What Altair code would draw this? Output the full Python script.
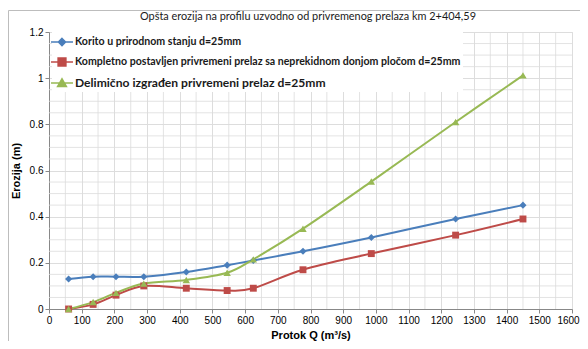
import altair as alt
import pandas as pd

# ---- data ----
q = [60, 135, 205, 290, 420, 545, 625, 777, 986, 1244, 1450]
korito = [0.13, 0.14, 0.14, 0.14, 0.16, 0.19, 0.21, 0.25, 0.31, 0.39, 0.45]
kompletno = [0.0, 0.02, 0.06, 0.10, 0.09, 0.08, 0.09, 0.17, 0.24, 0.32, 0.39]
delimicno = [0.0, 0.03, 0.07, 0.11, 0.126, 0.157, 0.215, 0.348, 0.552, 0.81, 1.012]

series_names = [
    "Korito u prirodnom stanju d=25mm",
    "Kompletno postavljen privremeni prelaz sa neprekidnom donjom pločom d=25mm",
    "Delimično izgrađen privremeni prelaz d=25mm",
]
series_colors = ["#4A7EBB", "#BE4B48", "#98B954"]
series_shapes = ["diamond", "square", "triangle-up"]
series_sizes = [50, 48, 55]

x_ticks = list(range(0, 1601, 100))
y_ticks = [0, 0.2, 0.4, 0.6, 0.8, 1.0, 1.2]
x_minor = list(range(50, 1600, 100))
y_minor = [round(0.05 * i, 2) for i in range(1, 24) if i % 4 != 0]

title_text = "Opšta erozija na profilu uzvodno od privremenog prelaza  km 2+404,59"
x_title = "Protok Q (m³/s)"
y_title = "Erozija (m)"

FONT = "Lato"

rows = []
for name, vals in zip(series_names, [korito, kompletno, delimicno]):
    for i, (x, y) in enumerate(zip(q, vals)):
        rows.append({"Q": x, "E": y, "serija": name, "order": i})
df = pd.DataFrame(rows)

xscale = alt.Scale(domain=[0, 1600], nice=False, zero=False)
yscale = alt.Scale(domain=[0, 1.2], nice=False)

legend_paths = [
    "M-1.57,0H1.57M0,-0.5L0.5,0L0,0.5L-0.5,0Z",
    "M-1.57,0H1.57M-0.55,-0.55H0.55V0.55H-0.55Z",
    "M-1.57,0H1.57M0,-0.6L0.62,0.5H-0.62Z",
]


def per_entry(values):
    def lit(v):
        return f"'{v}'" if isinstance(v, str) else repr(v)
    expr = lit(values[-1])
    for n, v in reversed(list(zip(series_names[:-1], values[:-1]))):
        expr = f"(datum.value === '{n}' ? {lit(v)} : {expr})"
    return alt.ExprRef(expr=expr)


legend = alt.Legend(
    title=None,
    orient="none",
    legendX=3,
    legendY=0,
    direction="vertical",
    fillColor="white",
    padding=2,
    symbolSize=196,
    symbolStrokeWidth=1.6,
    symbolType=per_entry(legend_paths),
    symbolFillColor=per_entry(series_colors),
    symbolStrokeColor=per_entry(series_colors),
    labelFont=FONT,
    labelFontSize=per_entry([10.6, 10.6, 12.1]),
    labelFontWeight="bold",
    labelColor="#1a1a1a",
    labelLimit=600,
    labelOffset=5,
    rowPadding=5,
)

x_axis = alt.Axis(
    values=x_ticks, format="d", title=x_title, grid=True, tickSize=4,
    titlePadding=4, labelOverlap=False, labelFlush=False, labelBound=False,
    labelOffset={"condition": {"test": "datum.value === 1600", "value": -4}, "value": 0},
)
y_axis = alt.Axis(
    values=y_ticks, format="~g", title=y_title, grid=True, tickSize=4,
    titlePadding=8, labelOverlap=False, labelFlush=False,
)

minor_x = (
    alt.Chart(pd.DataFrame({"v": x_minor}))
    .mark_rule(color="#dcdcdc", strokeWidth=0.8)
    .encode(x=alt.X("v:Q", scale=xscale, axis=x_axis))
)
minor_y = (
    alt.Chart(pd.DataFrame({"v": y_minor}))
    .mark_rule(color="#dcdcdc", strokeWidth=0.8)
    .encode(y=alt.Y("v:Q", scale=yscale, axis=y_axis))
)

lines = (
    alt.Chart(df)
    .mark_line(interpolate="cardinal", strokeWidth=2)
    .encode(
        x=alt.X("Q:Q", scale=xscale, axis=x_axis),
        y=alt.Y("E:Q", scale=yscale, axis=y_axis),
        color=alt.Color(
            "serija:N",
            scale=alt.Scale(domain=series_names, range=series_colors),
            legend=legend,
        ),
        order="order:Q",
    )
)

point_layers = []
for name, col, shp, sz in zip(series_names, series_colors, series_shapes, series_sizes):
    point_layers.append(
        alt.Chart(df)
        .transform_filter(alt.datum.serija == name)
        .mark_point(filled=True, opacity=1, size=sz, shape=shp, color=col)
        .encode(
            x=alt.X("Q:Q", scale=xscale, axis=x_axis),
            y=alt.Y("E:Q", scale=yscale, axis=y_axis),
        )
    )

frame = (
    alt.Chart(pd.DataFrame({"a": [0]}))
    .mark_rect(fill=None, stroke="#bdbdbd", strokeWidth=1, clip=False)
    .encode(
        x=alt.value(-40.5),
        x2=alt.value(560),
        y=alt.value(-21.5),
        y2=alt.value(330),
    )
)

title = (
    alt.Chart(pd.DataFrame({"t": [title_text]}))
    .mark_text(
        font=FONT, fontSize=10.9, fontWeight="normal", color="#1a1a1a",
        align="left", baseline="middle", clip=False,
    )
    .encode(text="t:N", x=alt.value(91), y=alt.value(-15))
)

chart = (
    alt.layer(frame, minor_x, minor_y, lines, *point_layers, title)
    .properties(
        width=523,
        height=277,
        autosize=alt.AutoSizeParams(type="none"),
        padding={"left": 41, "top": 24, "right": 8, "bottom": 32},
    )
    .configure_view(stroke=None)
    .configure_axis(
        labelFont=FONT,
        labelFontSize=10,
        labelFontWeight="bold",
        labelColor="#1a1a1a",
        titleFont=FONT,
        titleFontSize=10.5,
        titleFontWeight="bold",
        titleColor="#1a1a1a",
        gridColor="#a8a8a8",
        gridWidth=0.8,
        domainColor="#8c8c8c",
        tickColor="#8c8c8c",
        labelPadding=3,
    )
    .configure(background="white")
)

chart.save("out.html", embed_options={"renderer": "svg", "actions": False})
